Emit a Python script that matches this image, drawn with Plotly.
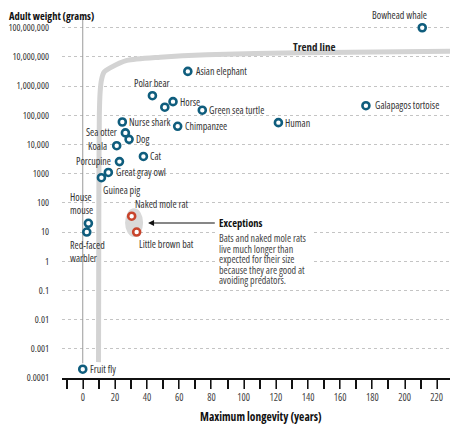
import math
import plotly.graph_objects as go

# animals: maximum longevity (years) and adult weight (grams)
animals = ["Fruit fly", "Red-faced<br>warbler", "House<br>mouse", "Guinea pig", "Great gray owl",
           "Porcupine", "Koala", "Cat", "Dog", "Sea otter", "Nurse shark", "Chimpanzee",
           "Polar bear", "", "Horse", "Green sea turtle", "Asian elephant", "Human",
           "Galapagos tortoise", "Bowhead whale"]
longevity = [0, 2.5, 3.5, 11.6, 15.9, 22.8, 21.1, 37.7, 28.8, 26.5, 24.6, 59,
             43.3, 51, 56.1, 74.3, 65.3, 121.6, 176, 211]
weight = [0.0002, 10, 20, 730, 1100, 2600, 9100, 3900, 15000, 25000, 59000, 42000,
          470000, 190000, 294000, 150000, 3200000, 56000, 213000, 100000000]

# exceptions (bats and naked mole rats)
exc_names = ["Naked mole rat", "Little brown bat"]
exc_longevity = [30.4, 33.5]
exc_weight = [35, 10]

# trend line
trend_x = [9.8, 10.0, 10.3, 10.8, 11.6, 13.2, 17, 27.5, 48, 77, 135, 229.5]
trend_y = [3.5e-4, 100, 1e5, 6.3e5, 1.6e6, 3e6, 4.2e6, 7.6e6, 9.8e6, 1.2e7, 1.38e7, 1.58e7]

y_ticks = [1e-4, 1e-3, 1e-2, 0.1, 1, 10, 100, 1000, 1e4, 1e5, 1e6, 1e7, 1e8]
y_ticktext = ["0.0001", "0.001", "0.01", "0.1", "1", "10", "100", "1000", "10,000",
              "100,000", "1,000,000", "10,000,000", "100,000,000"]
x_ticks = [0, 20, 40, 60, 80, 100, 120, 140, 160, 180, 200, 220]

note_lines = ["Bats and naked mole rats", "live much longer than", "expected for their size",
              "because they are good at", "avoiding predators."]

FONT = "Open Sans"
BLUE = "#0f5d7d"
RED = "#c8442c"
TXT = "#333333"


def cond(s):
    # Open Sans is a variable font here, so this gives the narrow cut
    return "<br>".join(f"<span style='font-stretch:condensed'>{p}</span>" for p in s.split("<br>"))


# label placement: (xanchor, yanchor, xshift, yshift, align)
place = {
    "Fruit fly": ("left", "middle", 5, 0, "left"),
    "Red-faced<br>warbler": ("left", "top", -19, -4, "left"),
    "House<br>mouse": ("left", "bottom", -20, 4, "left"),
    "Guinea pig": ("left", "top", 0, -3, "left"),
    "Great gray owl": ("left", "middle", 6, 0, "left"),
    "Porcupine": ("right", "middle", -6, 1, "right"),
    "Koala": ("right", "middle", -8, 0, "right"),
    "Cat": ("left", "middle", 5, 0, "left"),
    "Dog": ("left", "middle", 5, 0, "left"),
    "Sea otter": ("right", "middle", -6, 1, "right"),
    "Nurse shark": ("left", "middle", 5, 0, "left"),
    "Chimpanzee": ("left", "middle", 5, 0, "left"),
    "Polar bear": ("center", "bottom", 0, 4, "center"),
    "Horse": ("left", "middle", 5, 0, "left"),
    "Green sea turtle": ("left", "middle", 5, 0, "left"),
    "Asian elephant": ("left", "middle", 6, 0, "left"),
    "Human": ("left", "middle", 5, 0, "left"),
    "Galapagos tortoise": ("left", "middle", 7, 1, "left"),
    "Bowhead whale": ("right", "bottom", 7, 4, "right"),
    "Naked mole rat": ("left", "bottom", 1, 3, "left"),
    "Little brown bat": ("left", "top", 0, -3, "left"),
}

fig = go.Figure()

fig.add_trace(go.Scatter(
    x=trend_x, y=trend_y, mode="lines",
    line=dict(color="#d3d3d3", width=5, shape="spline", smoothing=0.6),
    hoverinfo="skip", showlegend=False
))

fig.add_trace(go.Scatter(
    x=longevity, y=weight, mode="markers", text=animals,
    marker=dict(size=7, color="white", line=dict(color=BLUE, width=2.6)),
    showlegend=False, cliponaxis=False
))

fig.add_trace(go.Scatter(
    x=exc_longevity, y=exc_weight, mode="markers", text=exc_names,
    marker=dict(size=7, color="white", line=dict(color=RED, width=2.6)),
    showlegend=False, cliponaxis=False
))

# grey blob behind the exceptions (shape coords on a log axis are data values)
fig.add_shape(type="circle", xref="x", yref="y", x0=26.3, x1=37.5, y0=6.8, y1=65,
              fillcolor="#d9d9d9", line_width=0, layer="between")
# white patch so the gridlines stop behind the note text
fig.add_shape(type="rect", xref="x", yref="y", x0=84, x1=142, y0=0.17, y1=25,
              fillcolor="white", line_width=0, layer="between")
# thin vertical line at x = 0
fig.add_shape(type="line", xref="x", yref="y", x0=0, x1=0, y0=0.00032, y1=2e8,
              line=dict(color="#9a9a9a", width=1), layer="between")

annotations = []
for name, xv, yv in list(zip(animals, longevity, weight)) + list(zip(exc_names, exc_longevity, exc_weight)):
    if not name:
        continue
    xa, ya, xs, ys, al = place[name]
    annotations.append(dict(
        x=xv, y=math.log10(yv), text=cond(name), showarrow=False,
        xanchor=xa, yanchor=ya, xshift=xs, yshift=ys, align=al,
        font=dict(family=FONT, size=10, color=TXT)
    ))

annotations += [
    dict(x=144, y=7.36, text=cond("<b>Trend line</b>"), showarrow=False,
         font=dict(family=FONT, size=11, color="#222")),
    dict(x=40.6, y=1.31, ax=83, ay=1.31, axref="x", ayref="y", text="", showarrow=True,
         arrowhead=2, arrowsize=1, arrowwidth=1.2, arrowcolor="#111"),
    dict(x=84, y=1.31, text=cond("<b>Exceptions</b>"), showarrow=False, xanchor="left",
         font=dict(family=FONT, size=10.5, color="#111"), borderpad=0),
    dict(xref="paper", yref="paper", x=0, y=1, xanchor="left", yanchor="top",
         xshift=-54, yshift=11, text=cond("<b>Adult weight (grams)</b>"), showarrow=False,
         font=dict(family=FONT, size=10.5, color="#111"), borderpad=0),
    dict(xref="paper", yref="paper", x=0.5, y=0, xanchor="center", yanchor="middle",
         xshift=4, yshift=-38, text=cond("<b>Maximum longevity (years)</b>"), showarrow=False,
         font=dict(family=FONT, size=11.5, color="#111")),
]
for i, line in enumerate(note_lines):
    annotations.append(dict(
        x=84, y=1.31, xanchor="left", yanchor="middle", showarrow=False,
        yshift=-15 - 10.5 * i, text=cond(line), borderpad=0,
        font=dict(family=FONT, size=10, color="#444")
    ))

fig.update_xaxes(
    range=[-12.9, 229.5], tickvals=x_ticks, ticktext=[cond(str(v)) for v in x_ticks],
    showgrid=False, zeroline=False,
    showline=True, linecolor="#111", linewidth=2,
    ticks="outside", ticklen=9, tickwidth=1, tickcolor="#777",
    minor=dict(dtick=10, tick0=0, ticks="outside", ticklen=9, tickwidth=2, tickcolor="#111"),
    tickfont=dict(family=FONT, size=10, color="#444"), automargin=False
)
fig.update_yaxes(
    type="log", range=[-4, 8.3], tickvals=y_ticks, ticktext=[cond(t) for t in y_ticktext],
    showgrid=True, gridcolor="#c4c4c4", griddash="dot", gridwidth=1,
    zeroline=False, showline=False, ticks="", ticklabelstandoff=12,
    tickfont=dict(family=FONT, size=9.5, color="#333"), automargin=False
)

# page body adds 8px around the plot, so the figure is 8px smaller than the window
fig.update_layout(
    width=450, height=416,
    margin=dict(l=54, r=6, t=11, b=46),
    plot_bgcolor="white", paper_bgcolor="white",
    annotations=annotations,
    showlegend=False
)

fig.write_html("out.html")
